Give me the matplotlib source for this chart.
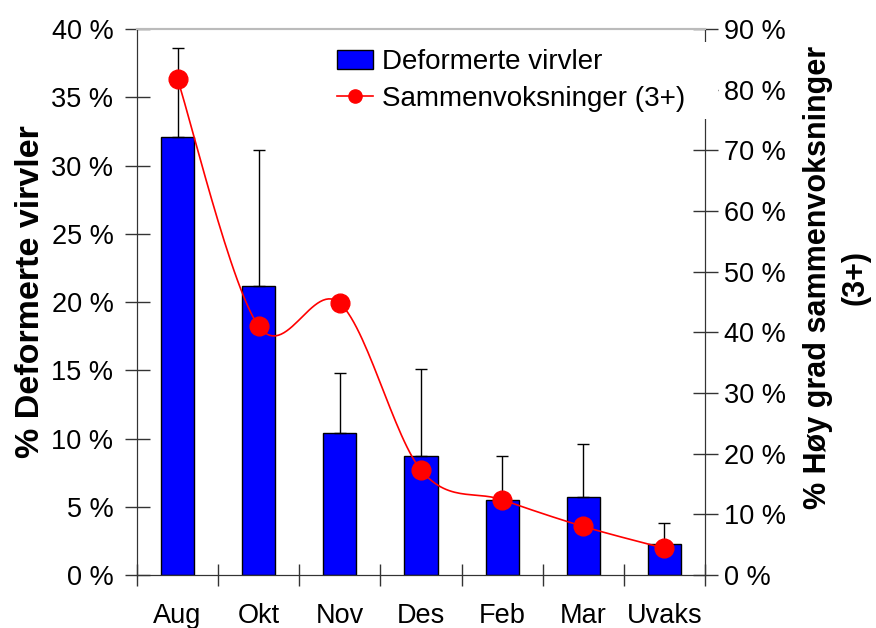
import matplotlib.pyplot as plt
import numpy as np
from matplotlib.ticker import FuncFormatter

plt.rcParams['font.family'] = ['Liberation Sans', 'DejaVu Sans']

months = ["Aug", "Okt", "Nov", "Des", "Feb", "Mar", "Uvaks"]
deformed = [32.1, 21.2, 10.4, 8.7, 5.5, 5.7, 2.3]
deformed_err = [6.5, 9.9, 4.4, 6.4, 3.2, 3.9, 1.5]
fused = [81.7, 41.0, 44.8, 17.3, 12.4, 8.0, 4.4]


def smooth(x, y, n=30):
    # catmull-rom style smoothing, like the spreadsheet "smoothed line"
    x = np.asarray(x, float)
    y = np.asarray(y, float)
    pts = np.column_stack([x, y])
    out = []
    for i in range(len(pts) - 1):
        p0 = pts[max(i - 1, 0)]
        p1 = pts[i]
        p2 = pts[i + 1]
        p3 = pts[min(i + 2, len(pts) - 1)]
        c1 = p1 + (p2 - p0) / 6.0
        c2 = p2 - (p3 - p1) / 6.0
        t = np.linspace(0, 1, n)[:, None]
        seg = ((1 - t) ** 3) * p1 + 3 * ((1 - t) ** 2) * t * c1 + 3 * (1 - t) * t ** 2 * c2 + t ** 3 * p2
        out.append(seg)
    out = np.vstack(out)
    return out[:, 0], out[:, 1]


fig = plt.figure(figsize=(8.76, 6.28), dpi=100)
ax = fig.add_axes([0.1564, 0.0844, 0.6484, 0.8694])
ax2 = ax.twinx()

x = np.arange(len(months))
bars = ax.bar(x, deformed, width=0.41, color="#0000ff", edgecolor="black", linewidth=1.0,
              label="Deformerte virvler", zorder=2)
ax.errorbar(x, deformed, yerr=[np.zeros(len(x)), deformed_err], fmt="none", ecolor="black",
            elinewidth=1.0, capsize=4, capthick=1.0, zorder=3)

sx, sy = smooth(x, fused)
ax2.plot(sx, sy, color="red", linewidth=1.2, zorder=3)
ax2.plot(x, fused, "o", color="red", markersize=13.5, zorder=4)
line_handle, = ax2.plot([], [], "-o", color="red", markersize=9.5, linewidth=1.2)

ax.set_xlim(-0.5, len(months) - 0.5)
ax.set_ylim(0, 40)
ax2.set_ylim(0, 90)
ax.set_yticks(np.arange(0, 41, 5))
ax2.set_yticks(np.arange(0, 91, 10))
pct = FuncFormatter(lambda v, p: "%d %%" % v)
ax.yaxis.set_major_formatter(pct)
ax2.yaxis.set_major_formatter(pct)

ax.set_xticks(np.arange(-0.5, len(months), 1.0))
ax.set_xticklabels([])
ax.set_xticks(x, minor=True)
ax.set_xticklabels(months, minor=True)
ax.tick_params(axis="x", which="major", direction="inout", length=16, width=1, color="#333333")
ax.tick_params(axis="x", which="minor", length=0, pad=20, labelsize=19.5)
ax.tick_params(axis="y", direction="inout", length=18, width=1, color="#333333", labelsize=19.5, pad=8)
ax2.tick_params(axis="y", direction="inout", length=18, width=1, color="#333333", labelsize=19.5, pad=5)

for a in (ax, ax2):
    a.spines["left"].set_color("#333333")
    a.spines["right"].set_color("#333333")
    a.spines["bottom"].set_color("#333333")
    a.spines["top"].set_color("#bbbbbb")
    a.spines["top"].set_linewidth(1.5)

ax.set_ylabel("% Deformerte virvler", fontsize=24.5, fontweight="bold")
ax.yaxis.set_label_coords(-0.16, 0.52)
ax2.set_ylabel("% Høy grad sammenvoksninger\n(3+)", fontsize=22, fontweight="bold",
               linespacing=1.3)
ax2.yaxis.set_label_coords(1.173, 0.545)

leg = fig.legend([bars, line_handle], ["Deformerte virvler", "Sammenvoksninger (3+)"],
                 loc="upper left", bbox_to_anchor=(330 / 876, 1 - 42 / 628, (718 - 330) / 876, 0.0),
                 mode="expand", fontsize=20, frameon=True, fancybox=False, handlelength=1.3,
                 handletextpad=0.33, borderpad=0.25, labelspacing=0.4, borderaxespad=0)
leg.get_frame().set_facecolor("white")
leg.get_frame().set_edgecolor("none")
leg.get_frame().set_alpha(1)

fig.savefig("out.png", dpi=100)
